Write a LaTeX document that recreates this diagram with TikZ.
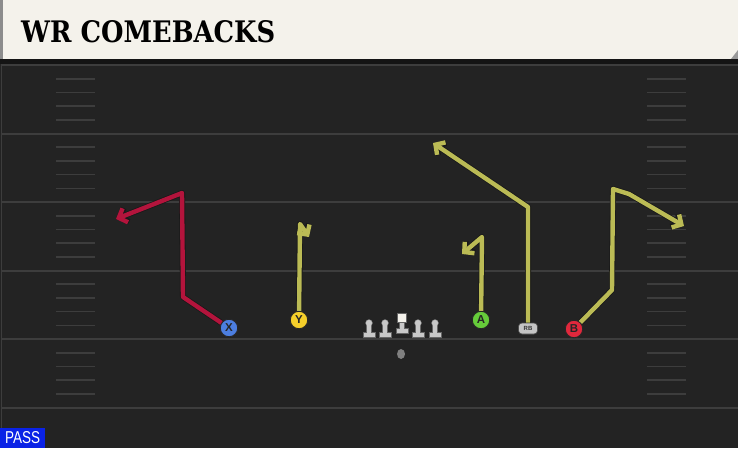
\documentclass[tikz,border=0pt]{standalone}
\usepackage{fontspec}
\setmainfont{Liberation Sans}
\newfontfamily\titlefont{DejaVu Serif}
\usetikzlibrary{arrows.meta}
\pgfdeclarelayer{field}
\pgfsetlayers{field,main}
\definecolor{fieldbg}{HTML}{232323}
\definecolor{fieldline}{HTML}{3D3D3D}
\definecolor{headerbg}{HTML}{F4F2EB}
\definecolor{routeyel}{HTML}{BBBB55}
\definecolor{routered}{HTML}{B3143C}
\definecolor{xblue}{HTML}{4C7EE0}
\definecolor{yyel}{HTML}{F5CF2A}
\definecolor{agreen}{HTML}{66CC3A}
\definecolor{bred}{HTML}{E0283C}
\definecolor{rbgray}{HTML}{C4C4C4}
\definecolor{linegray}{HTML}{C8C8C8}
\definecolor{passblue}{HTML}{0A22E6}
\tikzset{
  majorline/.style={draw=fieldline, line width=2},
  hashline/.style={draw=fieldline, line width=1.6},
  player/.style={circle, draw=black!85, line width=0.9, minimum size=17.5, inner sep=0,
    font=\bfseries\fontsize{11.5}{11.5}\selectfont, text=black!85},
  rbnode/.style={rectangle, rounded corners=3.5, fill=rbgray, draw=black!70, line width=0.6,
    minimum width=19, minimum height=11, inner sep=0, font=\bfseries\fontsize{6}{6}\selectfont, text=black!80},
  routeedge/.style={line width=6, draw=black!90, line join=round,
    -{Straight Barb[length=7pt,width=15pt]}},
  routefill/.style={line width=4.4, line join=round,
    -{Straight Barb[length=7pt,width=15pt]}},
  lineman/.style={fill=linegray, draw=black!60, line width=0.4},
}
\newcommand\drawroute[2]{\draw[routeedge] #2; \draw[routefill, draw=#1] #2;}
\begin{document}
\begin{tikzpicture}[x=1pt, y=-1pt]
\useasboundingbox (0,0) rectangle (738,448);
\begin{pgfonlayer}{field}
  \fill[fieldbg] (0,0) rectangle (738,448);
  \draw[fieldline, line width=1] (1.5,60) -- (1.5,448);
  \foreach \y in {65,133.5,202,270.5,339,407.5} {
    \draw[majorline] (2,\y) -- (738,\y);
  }
  \foreach \y in {65,133.5,202,270.5,339} {
    \foreach \k in {1,2,3,4} {
      \draw[hashline] (56,\y+13.7*\k) -- (95,\y+13.7*\k);
      \draw[hashline] (647,\y+13.7*\k) -- (686,\y+13.7*\k);
    }
  }
  % header
  \fill[headerbg] (0,0) rectangle (738,59);
  \fill[black!45] (0,0) rectangle (3,59);
  \fill[black!40] (731,59) -- (738,59) -- (738,50) -- cycle;
  \fill[black!92] (0,59) rectangle (738,63.5);
\end{pgfonlayer}

\node[anchor=west, inner sep=0] (title) at (21,32)
  {\resizebox{254pt}{22pt}{\titlefont\bfseries WR COMEBACKS}};

% players
\node[player, fill=xblue] (X) at (229,328) {X};
\node[player, fill=yyel] (Y) at (299,320) {Y};
\node[player, fill=agreen] (A) at (481,320) {A};
\node[player, fill=bred] (B) at (574,329) {B};
\node[rbnode] (RB) at (528,328.5) {RB};

% route waypoints
\coordinate (x1) at (183,297);
\coordinate (x2) at (182,193);
\coordinate (x3) at (116,219);
\coordinate (y1) at (300,224);
\coordinate (y2) at (309,237);
\coordinate (a1) at (482,237);
\coordinate (a2) at (462,254);
\coordinate (r1) at (528,207);
\coordinate (r2) at (433,143);
\coordinate (b1) at (612,290);
\coordinate (b2) at (613,189);
\coordinate (b3) at (629,194);
\coordinate (b4) at (684,226);

\drawroute{routered}{(X) -- (x1) -- (x2) -- (x3)}
\drawroute{routeyel}{(Y) -- (y1) -- (y2)}
\drawroute{routeyel}{(A) -- (a1) -- (a2)}
\drawroute{routeyel}{(RB) -- (r1) -- (r2)}
\drawroute{routeyel}{(B) -- (b1) -- (b2) -- (b3) -- (b4)}

% offensive line
\foreach \x in {369,385,418,435} {
  \draw[lineman] (\x-6,332.5) rectangle (\x+6,337.5);
  \draw[lineman] (\x-2.4,323) rectangle (\x+2.4,332.5);
  \draw[lineman] (\x,323) circle (3.5);
  \fill[linegray] (\x-2,323) rectangle (\x+2,333);
}
\draw[lineman] (396,328) rectangle (408,333);
\draw[lineman] (399.6,321) rectangle (404.4,328);
\fill[linegray] (400,321) rectangle (404,328.5);
\draw[fill=headerbg, draw=black!60, line width=0.4] (397,313) rectangle (406,322);
% ball
\fill[black!50] (401,354) ellipse (4 and 5);

% pass tag
\node[fill=passblue, anchor=south west, minimum width=45, minimum height=20, inner sep=0, text=white] (pass) at (0,448)
  {\resizebox{35pt}{12pt}{PASS}};
\end{tikzpicture}
\end{document}
